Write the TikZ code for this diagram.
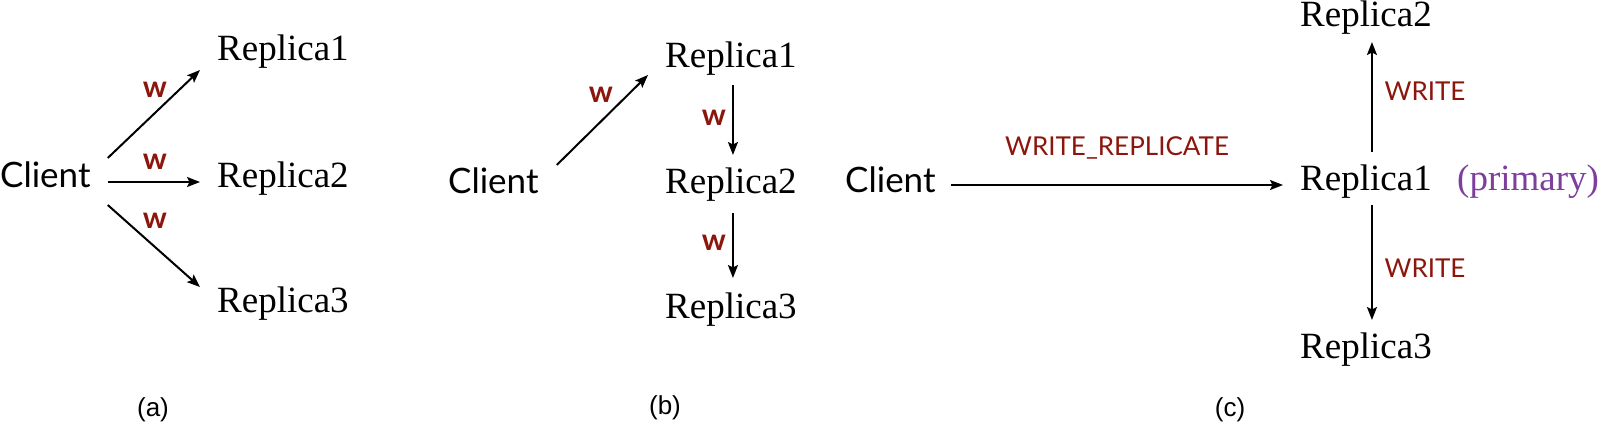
\documentclass[tikz,border=0pt]{standalone}
\usepackage{fontspec}
\usetikzlibrary{arrows.meta,calc}
\newfontfamily\gillf{Lato}
\newfontfamily\timesf{Liberation Serif}
\newfontfamily\arialf{Liberation Sans}
\definecolor{wred}{RGB}{140,22,12}
\definecolor{wpurple}{RGB}{125,62,158}
\tikzset{
  rep/.style={font=\timesf\fontsize{37}{40}\selectfont, inner sep=0pt, anchor=base west},
  cli/.style={font=\gillf\fontsize{35}{38}\selectfont, inner sep=0pt, anchor=base west},
  wlab/.style={font=\gillf\bfseries\fontsize{30}{32}\selectfont, text=wred, inner sep=0pt},
  blab/.style={font=\gillf\fontsize{26}{28}\selectfont, text=wred, inner sep=0pt, anchor=base},
  prim/.style={font=\timesf\fontsize{37}{40}\selectfont, text=wpurple, inner sep=0pt, anchor=base west},
  sublab/.style={font=\arialf\fontsize{26}{28}\selectfont, inner sep=0pt},
  arr/.style={-{Stealth[length=13pt,width=10pt,inset=2.5pt]}, line width=2pt},
}
\begin{document}
\begin{tikzpicture}[x=1pt,y={(0,-1pt)}]
\useasboundingbox (0,0) rectangle (1600,423);
% ---------- (a) ----------
\node[cli] (ca) at (0,187) {Client};
\node[rep] (a1) at (217,60) {Replica1};
\node[rep] (a2) at (217,187) {Replica2};
\node[rep] (a3) at (217,312) {Replica3};
\draw[arr] ($(ca.base east)+(17,-29)$) -- ($(a1.base west)+(-17,10)$);
\draw[arr] ($(ca.base east)+(17,-5)$) -- ($(a2.base west)+(-17,-5)$);
\draw[arr] ($(ca.base east)+(17,18)$) -- ($(a3.base west)+(-17,-25)$);
\node[wlab] (wa1) at (155,90) {w};
\node[wlab] (wa2) at (155,162) {w};
\node[wlab] (wa3) at (155,221) {w};
\node[sublab] (capa) at (153,410) {(a)};
% ---------- (b) ----------
\node[cli] (cb) at (448,193) {Client};
\node[rep] (b1) at (665,67) {Replica1};
\node[rep] (b2) at (665,193) {Replica2};
\node[rep] (b3) at (665,318) {Replica3};
\draw[arr] ($(cb.base east)+(18,-28)$) -- ($(b1.base west)+(-17,8)$);
\draw[arr] ($(b1.base)+(2,18)$) -- ($(b2.base)+(2,-38)$);
\draw[arr] ($(b2.base)+(2,20)$) -- ($(b3.base)+(2,-40)$);
\node[wlab] (wb1) at (601,95) {w};
\node[wlab] (wb2) at (714,118) {w};
\node[wlab] (wb3) at (714,243) {w};
\node[sublab] (capb) at (665,408) {(b)};
% ---------- (c) ----------
\node[cli] (cc) at (845,192) {Client};
\node[rep] (c1) at (1300,190) {Replica1};
\node[prim] (pr) at (1457,190) {(primary)};
\node[rep] (c2) at (1300,27) {Replica2};
\node[rep] (c3) at (1300,358) {Replica3};
\draw[arr] ($(cc.base east)+(15,-7)$) -- ($(c1.base west)+(-17,-5)$);
\node[blab] (wr) at (1117,155) {WRITE\_REPLICATE};
\draw[arr] ($(c1.base)+(6,-38)$) -- ($(c2.base)+(6,15)$);
\draw[arr] ($(c1.base)+(6,15)$) -- ($(c3.base)+(6,-38)$);
\node[blab] (wu) at (1425,100) {WRITE};
\node[blab] (wd) at (1425,277) {WRITE};
\node[sublab] (capc) at (1230,410) {(c)};
\end{tikzpicture}
\end{document}
